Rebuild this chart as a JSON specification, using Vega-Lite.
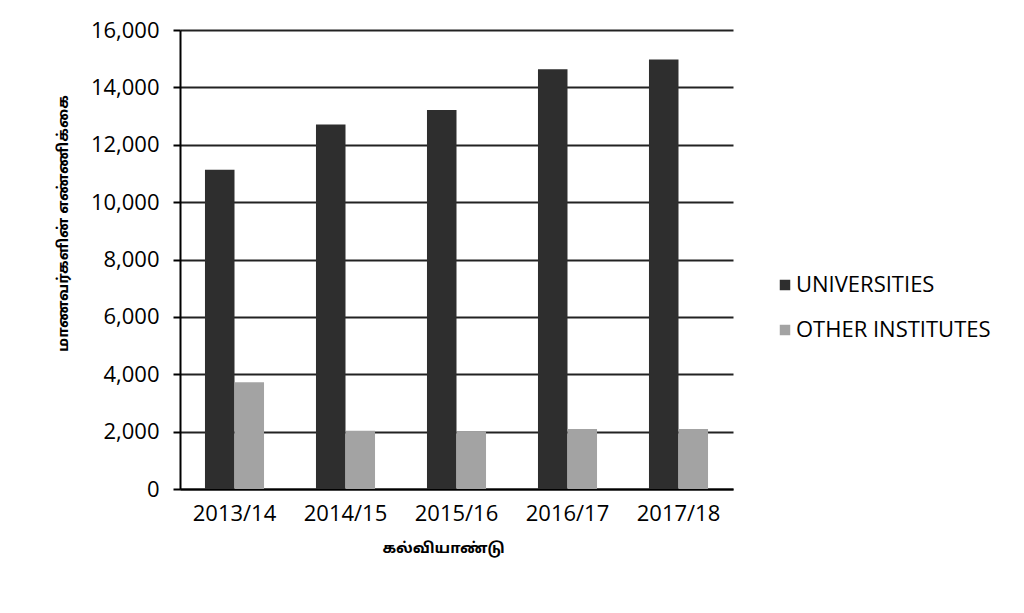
{
  "$schema": "https://vega.github.io/schema/vega-lite/v6.json",
  "width": 553,
  "height": 459,
  "autosize": {"type": "none"},
  "padding": {"left": 180, "top": 30, "right": 291, "bottom": 124},
  "background": "white",
  "data": {
    "values": [
      {"year": "2013/14", "series": "UNIVERSITIES", "students": 11130},
      {"year": "2014/15", "series": "UNIVERSITIES", "students": 12710},
      {"year": "2015/16", "series": "UNIVERSITIES", "students": 13210},
      {"year": "2016/17", "series": "UNIVERSITIES", "students": 14630},
      {"year": "2017/18", "series": "UNIVERSITIES", "students": 14970},
      {"year": "2013/14", "series": "OTHER INSTITUTES", "students": 3720},
      {"year": "2014/15", "series": "OTHER INSTITUTES", "students": 2030},
      {"year": "2015/16", "series": "OTHER INSTITUTES", "students": 2010},
      {"year": "2016/17", "series": "OTHER INSTITUTES", "students": 2090},
      {"year": "2017/18", "series": "OTHER INSTITUTES", "students": 2090}
    ]
  },
  "mark": {"type": "bar"},
  "encoding": {
    "x": {
      "field": "year",
      "type": "nominal",
      "sort": null,
      "scale": {"paddingInner": 0.468, "paddingOuter": 0.225},
      "axis": {
        "title": "கல்வியாண்டு",
        "labelAngle": 0,
        "labelFont": "Open Sans",
        "labelFontSize": 22,
        "labelColor": "#000000",
        "labelPadding": 14,
        "ticks": false,
        "domainColor": "#000000",
        "domainWidth": 2,
        "titleFont": "Noto Sans Tamil, Lohit Tamil, Noto Sans, sans-serif",
        "titleFontSize": 15,
        "titleFontWeight": "bold",
        "titleColor": "#000000",
        "titlePadding": 16,
        "titleX": 263
      }
    },
    "xOffset": {"field": "series", "type": "nominal", "sort": ["UNIVERSITIES", "OTHER INSTITUTES"], "scale": {"paddingInner": 0, "paddingOuter": 0}},
    "y": {
      "field": "students",
      "type": "quantitative",
      "scale": {"domain": [0, 16000], "nice": false},
      "axis": {
        "title": "மாணவர்களின் எண்ணிக்கை",
        "values": [0, 2000, 4000, 6000, 8000, 10000, 12000, 14000, 16000],
        "format": ",d",
        "labelFont": "Open Sans",
        "labelFontSize": 22,
        "labelColor": "#000000",
        "labelPadding": 14,
        "tickSize": 7,
        "tickColor": "#000000",
        "tickWidth": 2,
        "domainColor": "#000000",
        "domainWidth": 2,
        "grid": true,
        "gridColor": "#222222",
        "gridWidth": 2,
        "titleFont": "Noto Sans Tamil, Lohit Tamil, Noto Sans, sans-serif",
        "titleFontSize": 15,
        "titleFontWeight": "bold",
        "titleColor": "#000000",
        "titleX": -110,
        "titleY": 193
      }
    },
    "color": {
      "field": "series",
      "type": "nominal",
      "sort": ["UNIVERSITIES", "OTHER INSTITUTES"],
      "scale": {"domain": ["UNIVERSITIES", "OTHER INSTITUTES"], "range": ["#2e2e2e", "#a3a3a3"]},
      "legend": {
        "title": null,
        "orient": "none",
        "legendX": 594,
        "legendY": 244,
        "symbolType": "square",
        "symbolSize": 110,
        "symbolStrokeWidth": 0,
        "labelFont": "Open Sans",
        "labelFontSize": 22,
        "labelColor": "#000000",
        "labelOffset": 0,
        "labelLimit": 400,
        "rowPadding": 23
      }
    }
  },
  "config": {
    "view": {"stroke": null}
  }
}
